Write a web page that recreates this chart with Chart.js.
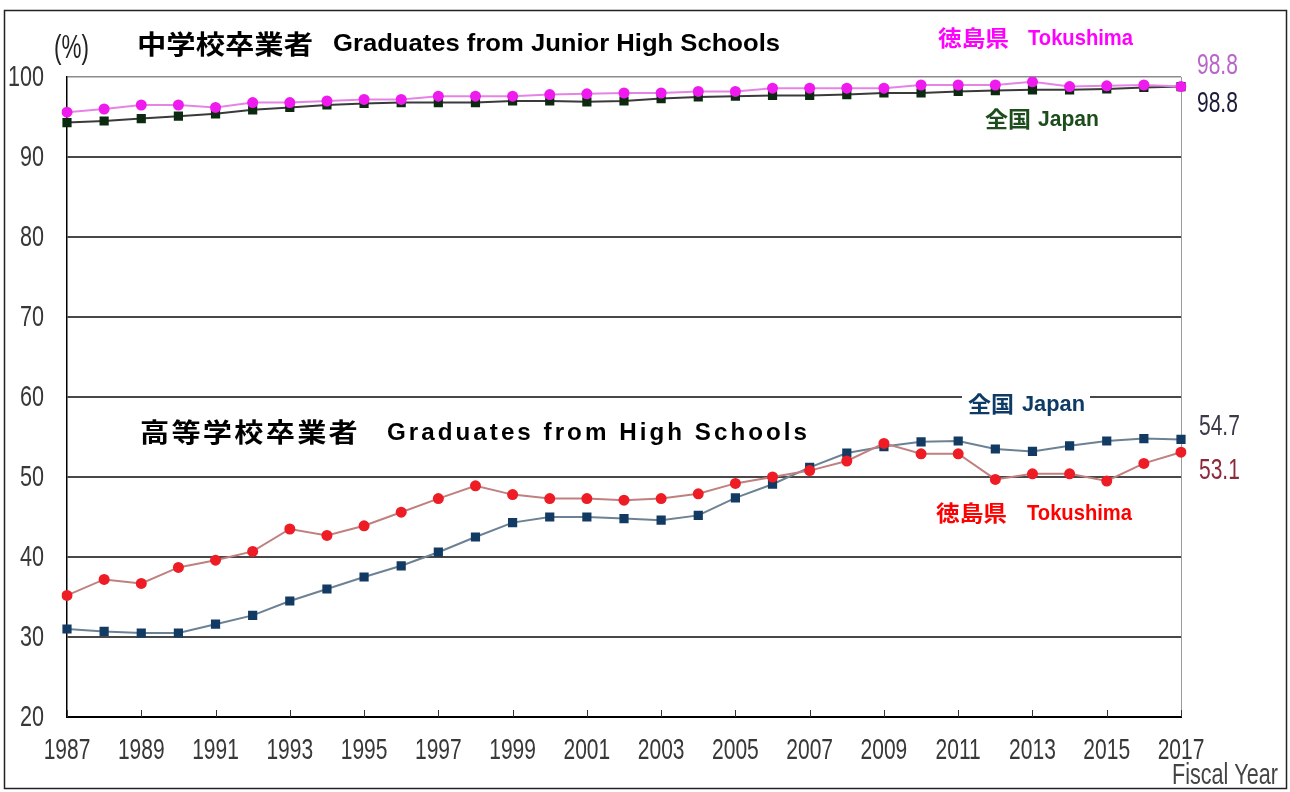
<!DOCTYPE html>
<html>
<head>
<meta charset="utf-8">
<script src="https://cdn.jsdelivr.net/npm/chart.js@4"></script>
<style>
  html, body { margin: 0; padding: 0; background: #fff; }
  #chart { display: block; }
</style>
</head>
<body>
<canvas id="chart" width="1290" height="792"></canvas>
<script>
// fiscal years on the x axis
const years = ["1987", "1988", "1989", "1990", "1991", "1992", "1993", "1994", "1995", "1996",
  "1997", "1998", "1999", "2000", "2001", "2002", "2003", "2004", "2005", "2006",
  "2007", "2008", "2009", "2010", "2011", "2012", "2013", "2014", "2015", "2016", "2017"];

// junior high school graduates (%)
const jhsTokushima = [95.6, 96.0, 96.5, 96.5, 96.2, 96.8, 96.8, 97.0, 97.2, 97.2,
  97.6, 97.6, 97.6, 97.8, 97.9, 98.0, 98.0, 98.2, 98.2, 98.6,
  98.6, 98.6, 98.6, 99.0, 99.0, 99.0, 99.4, 98.8, 98.9, 99.0, 98.8];
const jhsJapan = [94.3, 94.5, 94.8, 95.1, 95.4, 95.9, 96.2, 96.5, 96.7, 96.8,
  96.8, 96.8, 97.0, 97.0, 96.9, 97.0, 97.3, 97.5, 97.6, 97.7,
  97.7, 97.8, 98.0, 98.0, 98.2, 98.3, 98.4, 98.4, 98.5, 98.7, 98.8];

// high school graduates (%)
const hsTokushima = [35.2, 37.2, 36.7, 38.7, 39.6, 40.7, 43.5, 42.7, 43.9, 45.6,
  47.3, 48.9, 47.8, 47.3, 47.3, 47.1, 47.3, 47.9, 49.2, 50.0,
  50.8, 52.0, 54.2, 52.9, 52.9, 49.7, 50.4, 50.4, 49.5, 51.7, 53.1];
const hsJapan = [31.0, 30.7, 30.5, 30.5, 31.6, 32.7, 34.5, 36.0, 37.5, 38.9,
  40.6, 42.5, 44.3, 45.0, 45.0, 44.8, 44.6, 45.2, 47.4, 49.1,
  51.2, 53.0, 53.8, 54.4, 54.5, 53.5, 53.2, 53.9, 54.5, 54.8, 54.7];

// tick labels
const xTickLabels = ["1987", "1989", "1991", "1993", "1995", "1997", "1999", "2001",
  "2003", "2005", "2007", "2009", "2011", "2013", "2015", "2017"];
const yTickLabels = [20, 30, 40, 50, 60, 70, 80, 90, 100];

const NUM_FONT = "30px 'Liberation Sans', Arial, sans-serif";
const CJK_FONT = "bold 26px 'Noto Sans CJK JP', sans-serif";
const EN_FONT = "bold 24px 'Liberation Sans', Arial, sans-serif";

// draw text squeezed horizontally (the original uses a tall condensed face)
const narrowText = (ctx, text, x, y, align, font, color, sx) => {
  ctx.save();
  ctx.font = font;
  ctx.fillStyle = color;
  ctx.textBaseline = "middle";
  const w = ctx.measureText(text).width * sx;
  let left = x;
  if (align === "center") left = x - w / 2;
  if (align === "right") left = x - w;
  ctx.translate(left, y);
  ctx.scale(sx, 1);
  ctx.textAlign = "left";
  ctx.fillText(text, 0, 0);
  ctx.restore();
};

// draw text stretched/squeezed to a given width
const fitText = (ctx, text, x, y, width, font, color, spacing) => {
  ctx.save();
  ctx.font = font;
  ctx.letterSpacing = spacing || "0px";
  ctx.fillStyle = color;
  ctx.textBaseline = "middle";
  ctx.textAlign = "left";
  const m = ctx.measureText(text).width;
  ctx.translate(x, y);
  ctx.scale(width / m, 1);
  ctx.fillText(text, 0, 0);
  ctx.restore();
};

const labelBox = (ctx, x, y, w, h) => {
  ctx.save();
  ctx.fillStyle = "#fff";
  ctx.fillRect(x, y, w, h);
  ctx.restore();
};

const decorations = {
  id: "decorations",
  beforeDraw(chart) {
    const ctx = chart.ctx;
    ctx.save();
    ctx.fillStyle = "#fff";
    ctx.fillRect(0, 0, chart.width, chart.height);
    ctx.restore();
  },
  beforeDatasetsDraw(chart) {
    const ctx = chart.ctx;
    const { top, bottom, right } = chart.chartArea;
    const xs = chart.scales.x;
    ctx.save();
    // right frame line
    ctx.strokeStyle = "#9a9a9a";
    ctx.lineWidth = 1;
    ctx.beginPath();
    ctx.moveTo(right + 0.5, top);
    ctx.lineTo(right + 0.5, bottom);
    ctx.stroke();
    // small upward ticks on the year axis
    ctx.strokeStyle = "#333";
    ctx.lineWidth = 1;
    xTickLabels.forEach((y) => {
      const px = Math.round(xs.getPixelForValue(years.indexOf(y))) + 0.5;
      ctx.beginPath();
      ctx.moveTo(px, bottom);
      ctx.lineTo(px, bottom - 7);
      ctx.stroke();
    });
    ctx.restore();
    // label behind the 60 gridline
    labelBox(ctx, 962, 392, 128, 24);
  },
  afterDraw(chart) {
    const ctx = chart.ctx;
    const xs = chart.scales.x;
    const ys = chart.scales.y;

    // tick labels
    xTickLabels.forEach((y) => {
      narrowText(ctx, y, xs.getPixelForValue(years.indexOf(y)), 751, "center", NUM_FONT, "#383838", 0.7);
    });
    yTickLabels.forEach((v) => {
      narrowText(ctx, String(v), 44, ys.getPixelForValue(v) + 1, "right", NUM_FONT, "#383838", 0.72);
    });
    narrowText(ctx, "(%)", 54, 49, "left", "34px 'Liberation Sans', Arial, sans-serif", "#222", 0.66);
    narrowText(ctx, "Fiscal Year", 1278, 776, "right", NUM_FONT, "#444", 0.72);

    // titles
    fitText(ctx, "中学校卒業者", 137, 44, 176, CJK_FONT, "#000");
    fitText(ctx, "Graduates from Junior High Schools", 333, 44, 447, EN_FONT, "#000");
    fitText(ctx, "高等学校卒業者", 140, 432, 220, CJK_FONT, "#000", "2px");
    fitText(ctx, "Graduates from High Schools", 387, 433, 423, EN_FONT, "#000", "3px");

    // series labels
    fitText(ctx, "徳島県", 938, 38, 71, "bold 22px 'Noto Sans CJK JP', sans-serif", "#ff00ff");
    fitText(ctx, "Tokushima", 1028, 39, 105, "bold 22px 'Liberation Sans', Arial, sans-serif", "#ff00ff");
    fitText(ctx, "全国", 985, 119, 46, "bold 22px 'Noto Sans CJK JP', sans-serif", "#1d4d1d");
    fitText(ctx, "Japan", 1038, 120, 61, "bold 22px 'Liberation Sans', Arial, sans-serif", "#1d4d1d");
    fitText(ctx, "全国", 968, 404, 46, "bold 22px 'Noto Sans CJK JP', sans-serif", "#0d3b66");
    fitText(ctx, "Japan", 1022, 405, 63, "bold 22px 'Liberation Sans', Arial, sans-serif", "#0d3b66");
    fitText(ctx, "徳島県", 936, 513, 71, "bold 22px 'Noto Sans CJK JP', sans-serif", "#ff0000");
    fitText(ctx, "Tokushima", 1027, 514, 105, "bold 22px 'Liberation Sans', Arial, sans-serif", "#ff0000");

    // end values
    const last = years.length - 1;
    narrowText(ctx, String(jhsTokushima[last].toFixed(1)), 1197, 66, "left", NUM_FONT, "#b866c8", 0.7);
    narrowText(ctx, String(jhsJapan[last].toFixed(1)), 1197, 104, "left", NUM_FONT, "#1c1c3a", 0.7);
    narrowText(ctx, String(hsJapan[last].toFixed(1)), 1199, 427, "left", NUM_FONT, "#3a3a4a", 0.7);
    narrowText(ctx, String(hsTokushima[last].toFixed(1)), 1199, 471, "left", NUM_FONT, "#8a2a3a", 0.7);

    // outer frame
    ctx.save();
    ctx.strokeStyle = "#222";
    ctx.lineWidth = 1.5;
    ctx.strokeRect(4.5, 10.5, 1282, 778);
    ctx.restore();
  },
};

const displayChart = () => {
  const ctx = document.getElementById("chart").getContext("2d");
  new Chart(ctx, {
    type: "line",
    data: {
      labels: years,
      datasets: [
        {
          label: "徳島県 中学校",
          data: jhsTokushima,
          borderColor: "#e684e6",
          borderWidth: 2,
          pointStyle: "circle",
          pointRadius: 5.5,
          pointBackgroundColor: "#ee1aee",
          pointBorderColor: "#ee1aee",
          pointBorderWidth: 0,
        },
        {
          label: "徳島県 高等学校",
          data: hsTokushima,
          borderColor: "#c08080",
          borderWidth: 2,
          pointStyle: "circle",
          pointRadius: 5.5,
          pointBackgroundColor: "#ee1c24",
          pointBorderColor: "#ee1c24",
          pointBorderWidth: 0,
        },
        {
          label: "全国 中学校",
          data: jhsJapan,
          borderColor: "#3a3a3a",
          borderWidth: 2,
          pointStyle: "rect",
          pointRadius: 6.5,
          pointBackgroundColor: "#0c2a10",
          pointBorderColor: "#0c2a10",
          pointBorderWidth: 0,
        },
        {
          label: "全国 高等学校",
          data: hsJapan,
          borderColor: "#6c8294",
          borderWidth: 2,
          pointStyle: "rect",
          pointRadius: 6.5,
          pointBackgroundColor: "#123a62",
          pointBorderColor: "#123a62",
          pointBorderWidth: 0,
        },
      ],
    },
    options: {
      responsive: false,
      animation: false,
      layout: { padding: { left: 0, top: 77, right: 109, bottom: 0 } },
      plugins: {
        legend: { display: false },
        tooltip: { enabled: false },
      },
      scales: {
        x: {
          type: "category",
          offset: false,
          grid: { display: false },
          ticks: { display: false },
          border: { display: true, color: "#000", width: 2 },
          afterFit: (s) => { s.height = 75; },
        },
        y: {
          min: 20,
          max: 100,
          ticks: { display: false, stepSize: 10 },
          grid: {
            drawTicks: false,
            color: (c) => (c.tick.value === 100 ? "#8c8c8c" : c.tick.value === 20 ? "#000" : "#484848"),
            lineWidth: (c) => (c.tick.value === 100 ? 1.5 : 2),
          },
          border: { display: true, color: "#000", width: 1.5 },
          afterFit: (s) => { s.width = 67; },
        },
      },
    },
    plugins: [decorations],
  });
};

displayChart();
</script>
</body>
</html>
